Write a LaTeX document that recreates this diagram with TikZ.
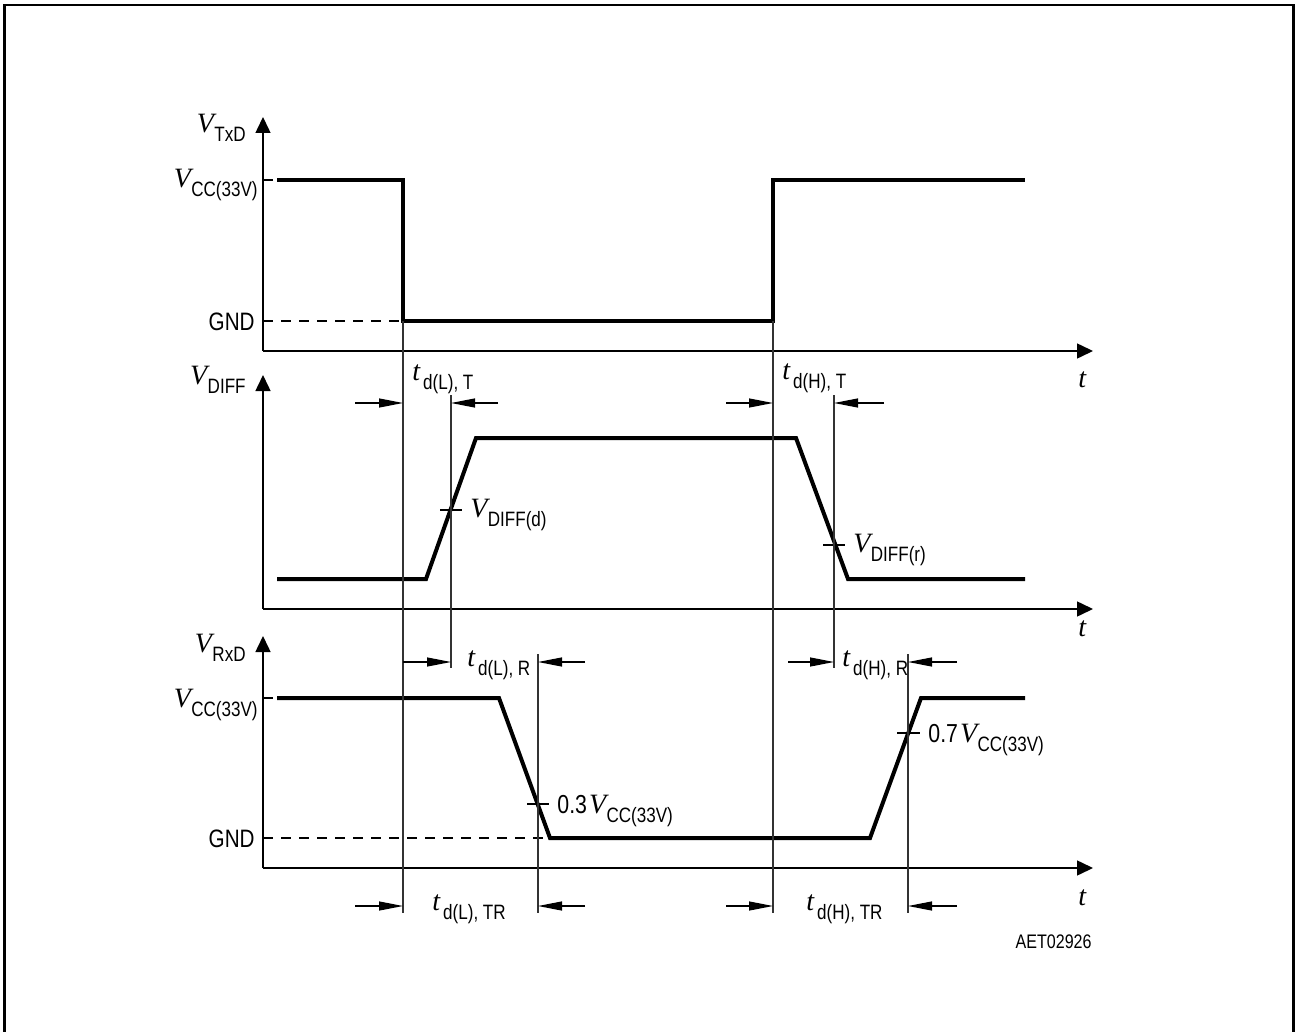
\documentclass[tikz,border=0pt]{standalone}
\usepackage{fontspec}
\setmainfont{Liberation Sans}[FakeStretch=0.82]
\newfontfamily\serifrm{Liberation Serif}
\usetikzlibrary{arrows.meta}
\newcommand\Vit{{\fontsize{14}{14}\selectfont\serifrm\itshape V}}
\newcommand\tit{{\fontsize{14}{14}\selectfont\serifrm\itshape t}}
\newcommand\subtxt[1]{\raisebox{-4.5pt}{\fontsize{10.4}{10}\selectfont #1}}
\newcommand\VV[1]{\Vit\kern0.2pt\subtxt{#1}}
\newcommand\TT[1]{\tit\kern1.5pt\subtxt{#1}}
\newcommand\num[1]{{\fontsize{13}{13}\selectfont #1}}
\begin{document}
\begin{tikzpicture}[x=0.5pt,y=-0.5pt,
  wave/.style={line width=2pt, line join=miter},
  axis/.style={line width=0.75pt,-{Triangle[length=8pt,width=7.5pt]}},
  guide/.style={line width=0.6pt, black!80},
  dimarr/.style={line width=0.6pt,-{Triangle[length=12pt,width=4.5pt]}},
  tick/.style={line width=0.6pt},
  gnddash/.style={line width=0.6pt, dash pattern=on 5pt off 4pt},
  lbl/.style={inner sep=0pt, font=\fontsize{12.6}{12}\selectfont},
  frame/.style={line width=1.2pt}]
\useasboundingbox (0,0) rectangle (1295,1032);
% frame
\draw[frame] (4.5,1032) -- (4.5,5) -- (1293.5,5) -- (1293.5,1032);

% ---------- top plot (TxD) ----------
\coordinate (o1) at (263,351);
\coordinate (y1) at (263,117);
\coordinate (x1) at (1093,351);
\draw[axis] (o1) -- (y1);
\draw[axis] (o1) -- (x1);
\draw[tick] (263,180) -- (273,180);
\draw[gnddash] (263,321) -- (403,321);
\draw[wave] (277,180) -- (403,180) -- (403,321) -- (773,321) -- (773,180) -- (1025,180);

% ---------- middle plot (DIFF) ----------
\coordinate (o2) at (263,609);
\coordinate (y2) at (263,375);
\coordinate (x2) at (1093,609);
\draw[axis] (o2) -- (y2);
\draw[axis] (o2) -- (x2);
\draw[wave] (277,579) -- (426,579) -- (476,438) -- (796,438) -- (848,579) -- (1025,579);
\draw[tick] (440,510) -- (462,510);
\draw[tick] (823,545) -- (845,545);

% ---------- bottom plot (RxD) ----------
\coordinate (o3) at (263,868);
\coordinate (y3) at (263,636);
\coordinate (x3) at (1093,868);
\draw[axis] (o3) -- (y3);
\draw[axis] (o3) -- (x3);
\draw[tick] (263,698) -- (273,698);
\draw[gnddash] (263,838) -- (550,838);
\draw[wave] (277,698) -- (499,698) -- (550,838) -- (870,838) -- (921,698) -- (1025,698);
\draw[tick] (527,804) -- (549,804);
\draw[tick] (897,733) -- (920,733);

% ---------- guide lines ----------
\draw[guide] (403,321) -- (403,913);
\draw[guide] (773,321) -- (773,913);
\draw[guide] (451,395) -- (451,668);
\draw[guide] (834,395) -- (834,668);
\draw[guide] (538,654) -- (538,913);
\draw[guide] (908,654) -- (908,913);

% ---------- dimension arrows ----------
\draw[dimarr] (355,403) -- (403,403);
\draw[dimarr] (498,403) -- (451,403);
\draw[dimarr] (726,403) -- (773,403);
\draw[dimarr] (884,403) -- (834,403);
\draw[dimarr] (403,662) -- (451,662);
\draw[dimarr] (585,662) -- (538,662);
\draw[dimarr] (788,662) -- (834,662);
\draw[dimarr] (957,662) -- (908,662);
\draw[dimarr] (355,906) -- (403,906);
\draw[dimarr] (585,906) -- (538,906);
\draw[dimarr] (726,906) -- (773,906);
\draw[dimarr] (957,906) -- (908,906);

% ---------- labels ----------
\node[lbl, anchor=base east] (vtxd) at (246,133) {\VV{TxD}};
\node[lbl, anchor=base east] (vcc1) at (258,188) {\VV{CC(33V)}};
\node[lbl, anchor=base east] (gnd1) at (255,330) {GND};
\node[lbl, anchor=base east] (vdiff) at (246,384) {\VV{DIFF}};
\node[lbl, anchor=base east] (vrxd) at (246,652) {\VV{RxD}};
\node[lbl, anchor=base east] (vcc2) at (258,707) {\VV{CC(33V)}};
\node[lbl, anchor=base east] (gnd2) at (255,847) {GND};

\node[lbl, anchor=base west] (tdlt) at (412,380) {\TT{d(L), T}};
\node[lbl, anchor=base west] (tdht) at (782,379) {\TT{d(H), T}};
\node[lbl, anchor=base west] (tdlr) at (467,666) {\TT{d(L), R}};
\node[lbl, anchor=base west] (tdhr) at (842,666) {\TT{d(H), R}};
\node[lbl, anchor=base west] (tdltr) at (432,910) {\TT{d(L), TR}};
\node[lbl, anchor=base west] (tdhtr) at (806,910) {\TT{d(H), TR}};

\node[lbl, anchor=base west] (vdd) at (470,517) {\VV{DIFF(d)}};
\node[lbl, anchor=base west] (vdr) at (853,552) {\VV{DIFF(r)}};
\node[lbl, anchor=base west] (v03) at (557,813) {\num{0.3}\kern1pt\VV{CC(33V)}};
\node[lbl, anchor=base west] (v07) at (928,742) {\num{0.7}\kern1pt\VV{CC(33V)}};

\node[lbl, anchor=base west] (t1) at (1078,387) {\tit};
\node[lbl, anchor=base west] (t2) at (1078,636) {\tit};
\node[lbl, anchor=base west] (t3) at (1078,905) {\tit};

\node[inner sep=0pt, anchor=base east, font=\fontsize{9.8}{10}\selectfont] (code) at (1092,948) {AET02926};
\end{tikzpicture}
\end{document}
